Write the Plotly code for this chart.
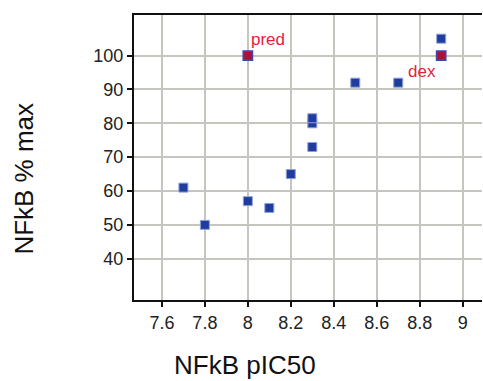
import plotly.graph_objects as go

# Data
pic50 = [7.7, 7.8, 8.0, 8.1, 8.2, 8.3, 8.3, 8.3, 8.5, 8.7, 8.9]
pct_max = [61, 50, 57, 55, 65, 73, 80, 81.5, 92, 92, 105]
ref_names = ["pred", "dex"]
ref_pic50 = [8.0, 8.9]
ref_pct = [100, 100]

x_ticks = [7.6, 7.8, 8.0, 8.2, 8.4, 8.6, 8.8, 9.0]
x_ticklabels = ["7.6", "7.8", "8", "8.2", "8.4", "8.6", "8.8", "9"]
y_ticks = [40, 50, 60, 70, 80, 90, 100]
x_title = "NFkB pIC50"
y_title = "NFkB % max"

fig = go.Figure()
fig.add_trace(go.Scatter(
    x=pic50, y=pct_max, mode="markers",
    marker=dict(symbol="square", size=9, color="#1f3d9e",
                line=dict(color="#8fa0d8", width=1)),
    showlegend=False, hoverinfo="skip"))
fig.add_trace(go.Scatter(
    x=ref_pic50, y=ref_pct, mode="markers",
    marker=dict(symbol="square", size=9, color="#b0102c",
                line=dict(color="#3a48b0", width=1.8)),
    showlegend=False, hoverinfo="skip"))

lab_font = dict(family="Arial, Liberation Sans", size=17, color="#e8203c")
fig.add_annotation(x=ref_pic50[0], y=ref_pct[0], text=ref_names[0], showarrow=False,
                   xanchor="left", yanchor="middle", xshift=1, yshift=16,
                   font=lab_font)
fig.add_annotation(x=8.81, y=95.3, text=ref_names[1], showarrow=False,
                   xanchor="center", yanchor="middle", font=lab_font)

title_font = dict(family="Arial, Liberation Sans", size=26, color="#111111")
fig.add_annotation(xref="paper", yref="paper", x=0.319, y=-0.228, text=x_title,
                   showarrow=False, xanchor="center", yanchor="middle", font=title_font)
fig.add_annotation(xref="paper", yref="paper", x=-0.316, y=0.426, text=y_title,
                   showarrow=False, xanchor="center", yanchor="middle", textangle=-90,
                   font=title_font)

fig.update_layout(
    width=483, height=381,
    margin=dict(l=134, r=1, t=15, b=81),
    paper_bgcolor="white", plot_bgcolor="white",
    font=dict(family="Arial, Liberation Sans", color="#222222"),
)
fig.update_xaxes(
    range=[7.47, 9.09], tickvals=x_ticks, ticktext=x_ticklabels,
    showgrid=True, gridcolor="#c6c6be", gridwidth=2,
    showline=True, linecolor="#111111", linewidth=2, mirror=True,
    ticks="outside", ticklen=5, tickwidth=2, tickcolor="#111111",
    tickfont=dict(size=18, color="#222222"),
    zeroline=False, automargin=False,
)
fig.update_yaxes(
    range=[27.8, 112], tickvals=y_ticks,
    showgrid=True, gridcolor="#c6c6be", gridwidth=2,
    showline=True, linecolor="#111111", linewidth=2, mirror=False,
    ticks="outside", ticklen=5, tickwidth=2, tickcolor="#111111",
    tickfont=dict(size=18, color="#222222"),
    zeroline=False, automargin=False,
)

fig.write_html("out.html", config={"displayModeBar": False},
               post_script="document.body.style.margin='0';")
